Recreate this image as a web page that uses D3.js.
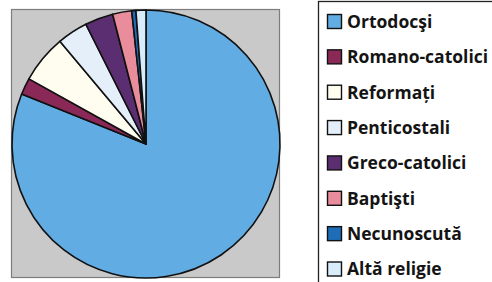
<!DOCTYPE html>
<html>
<head>
<meta charset="utf-8">
<script src="https://cdn.jsdelivr.net/npm/d3@7"></script>
<style>
  body { margin: 0; background: #fff; }
  svg { display: block; }
</style>
</head>
<body>
<div id="chart"></div>
<script>
// religii - procente
var categories = ["Ortodocşi", "Romano-catolici", "Reformați", "Penticostali",
    "Greco-catolici", "Baptişti", "Necunoscută", "Altă religie"];
var values = [81.0, 2.0, 5.8, 3.7, 3.4, 2.3, 0.5, 1.2];
var colors = ["#62ace4", "#8a2858", "#fffdf0", "#e4effa",
    "#5a2e70", "#e98c9b", "#1e6db8", "#d9ecf9"];

var w = 492, h = 282;
var svg = d3.select("#chart").append("svg")
    .attr("width", w)
    .attr("height", h);

// gray plot area
svg.append("rect")
    .attr("x", 11.5).attr("y", 9.5)
    .attr("width", 268).attr("height", 268)
    .attr("fill", "#c9c9c9")
    .attr("stroke", "#7d7d7d")
    .attr("stroke-width", 1.2);

var cx = 146, cy = 144, radius = 134;

var pie = d3.pie().sort(null).value(function(d) { return d.v; });
var arc = d3.arc().innerRadius(0).outerRadius(radius);

var data = categories.map(function(c, i) { return {name: c, v: values[i], color: colors[i]}; });

svg.append("g")
    .attr("transform", "translate(" + [cx, cy] + ")")
    .selectAll("path")
    .data(pie(data))
    .enter()
    .append("path")
    .attr("d", arc)
    .attr("fill", function(d) { return d.data.color; })
    .attr("stroke", "#111")
    .attr("stroke-width", 1.6)
    .attr("stroke-linejoin", "round");

// legend (box runs off the right/bottom edge)
svg.append("rect")
    .attr("x", 318.5).attr("y", 1.5)
    .attr("width", 200).attr("height", 300)
    .attr("fill", "#fff")
    .attr("stroke", "#222")
    .attr("stroke-width", 1.3);

var rowY = d3.scaleLinear().domain([0, categories.length - 1]).range([21.5, 269]);

var items = svg.append("g").selectAll("g")
    .data(data)
    .enter()
    .append("g")
    .attr("transform", function(d, i) { return "translate(" + [327, rowY(i)] + ")"; });

items.append("rect")
    .attr("x", 0.5).attr("y", -7)
    .attr("width", 14).attr("height", 14)
    .attr("fill", function(d) { return d.color; })
    .attr("stroke", "#111")
    .attr("stroke-width", 1.4);

items.append("text")
    .attr("x", 20)
    .attr("y", 0)
    .attr("dy", "0.36em")
    .attr("font-family", "'Open Sans', sans-serif")
    .attr("font-weight", 700)
    .attr("font-size", 17.5)
    .attr("fill", "#141414")
    .text(function(d) { return d.name; });
</script>
</body>
</html>
